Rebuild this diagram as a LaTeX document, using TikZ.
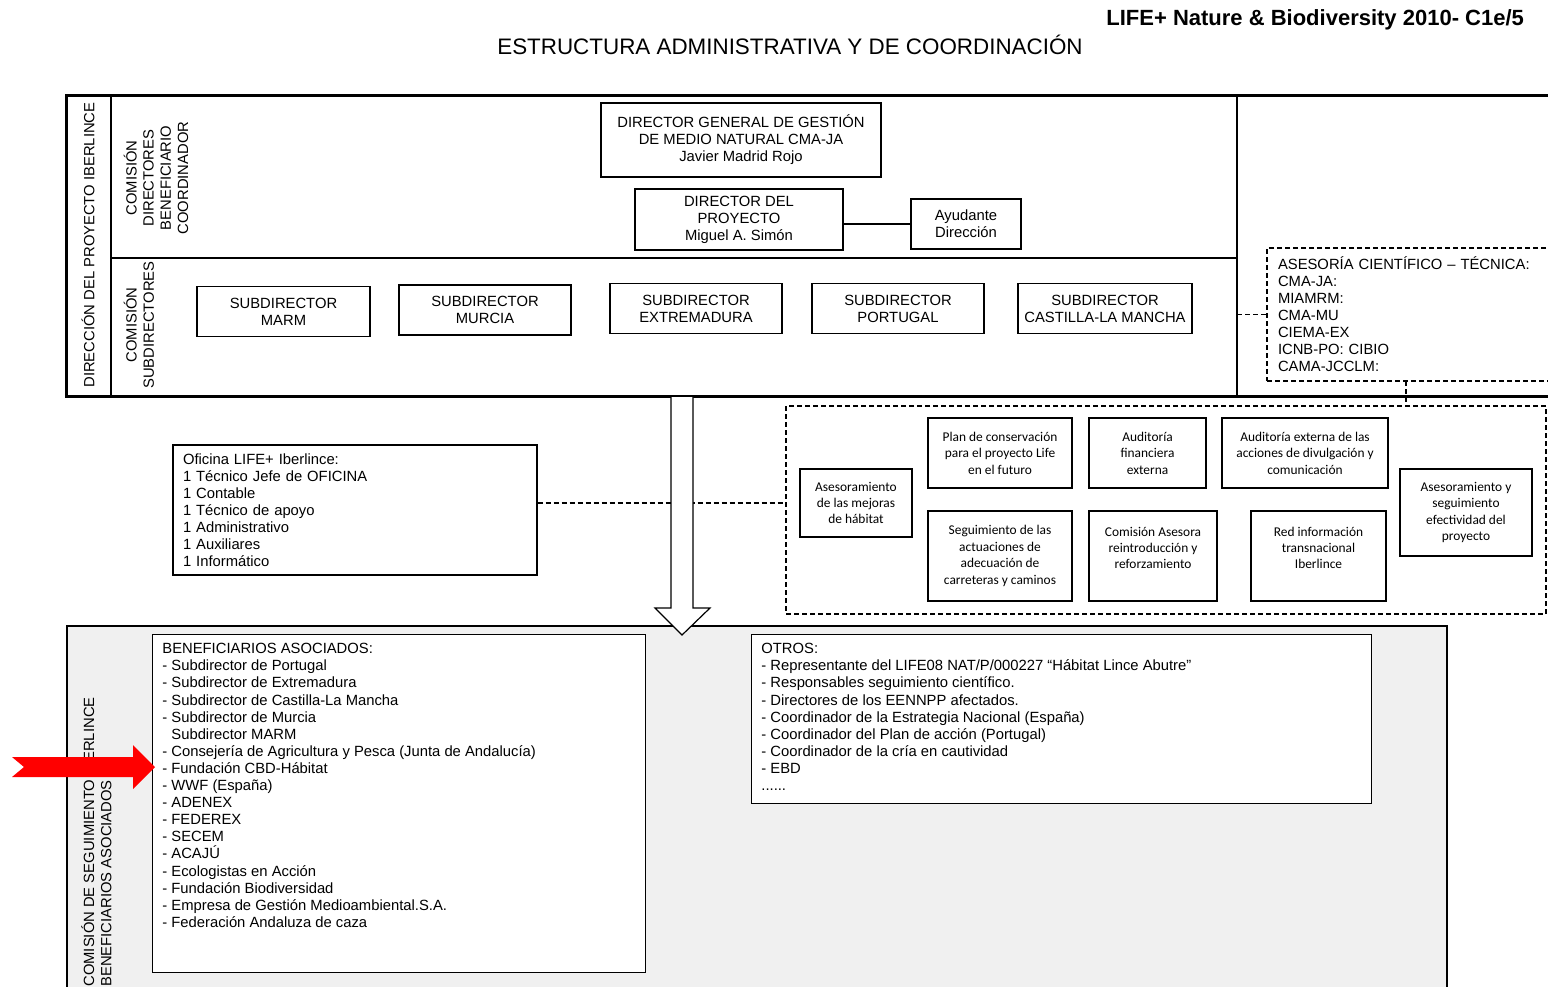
\documentclass[tikz,border=0pt]{standalone}
\usepackage{fontspec}
\setmainfont{Liberation Sans}
\newfontfamily\calibri{Carlito}

\begin{document}
\begin{tikzpicture}[x=0.5pt,y=-0.5pt,
		kasten/.style={draw,line width=0.7pt,align=center,inner sep=0pt,font=\fontsize{7.4}{8.5}\selectfont},
		klein/.style={draw,line width=0.7pt,align=center,inner sep=0pt,font=\calibri\fontsize{6.7}{8.2}\selectfont},
		liste/.style={align=left,inner sep=0pt,anchor=north west,font=\fontsize{7.4}{8.55}\selectfont},
		quer/.style={rotate=90,align=center,inner sep=0pt,font=\fontsize{7.4}{8.6}\selectfont},
		strich/.style={dash pattern=on 2.5pt off 1.5pt,line width=0.6pt},
		rahmen/.style={line width=1.5pt}]
		\useasboundingbox (0,0) rectangle (1548,986);
		
		%Überschrift
		\node[font=\fontsize{11.2}{13}\selectfont] (titel) at (790,45) {ESTRUCTURA ADMINISTRATIVA Y DE COORDINACIÓN};
		\node[font=\bfseries\fontsize{11}{13}\selectfont,anchor=east] (life) at (1531,20) {LIFE+ Nature \& Biodiversity 2010- C1e/5};
		
		%Rahmen oben
		\draw[rahmen] (1548,95) -- (66,95) -- (66,396) -- (1548,396);
		\draw[line width=1pt] (111,95) -- (111,396) (1237,95) -- (1237,396) (111,258) -- (1237,258);
		\node[quer] (direccion) at (88,245) {DIRECCIÓN DEL PROYECTO IBERLINCE};
		\node[quer] (comdir) at (156,178) {COMISIÓN\\DIRECTORES\\BENEFICIARIO\\COORDINADOR};
		\node[quer] (comsub) at (139,325) {COMISIÓN\\SUBDIRECTORES};
		
		\node[kasten,minimum width=140pt,minimum height=37pt] (dg) at (741,140) {DIRECTOR GENERAL DE GESTIÓN\\DE MEDIO NATURAL CMA-JA\\Javier Madrid Rojo};
		\node[kasten,minimum width=104pt,minimum height=30.5pt] (director) at (739,219.5) {DIRECTOR DEL\\PROYECTO\\Miguel A. Simón};
		\node[kasten,minimum width=55pt,minimum height=25pt] (ayudante) at (966,224) {Ayudante\\Dirección};
		\draw[line width=0.7pt] (director.east |- ayudante.west) -- (ayudante.west);
		
		\node[kasten,minimum width=86.5pt,minimum height=25pt] (smarm) at (283.5,311.5) {SUBDIRECTOR\\MARM};
		\node[kasten,minimum width=86pt,minimum height=25pt] (smurcia) at (485,310) {SUBDIRECTOR\\MURCIA};
		\node[kasten,minimum width=86pt,minimum height=25pt] (sextre) at (696,308.5) {SUBDIRECTOR\\EXTREMADURA};
		\node[kasten,minimum width=86pt,minimum height=25pt] (sport) at (898,308.5) {SUBDIRECTOR\\PORTUGAL};
		\node[kasten,minimum width=87pt,minimum height=25pt] (scast) at (1105,308.5) {SUBDIRECTOR\\CASTILLA-LA MANCHA};
		
		%Asesoría rechts
		\node[kasten,strich,align=left,text width=155.5pt,inner xsep=5.5pt,minimum height=66.5pt] (cientifica) at (1433.5,314.5) {ASESORÍA CIENTÍFICO – TÉCNICA:\\CMA-JA:\\MIAMRM:\\CMA-MU\\CIEMA-EX\\ICNB-PO: CIBIO\\CAMA-JCCLM:};
		\coordinate (senkrecht) at (1237,314.5);
		\coordinate (unten) at (1406,381);
		\draw[strich] (senkrecht) -- (cientifica.west);
		
		%Gruppe gestrichelt
		\node[draw,strich,inner sep=0pt,minimum width=380pt,minimum height=104pt] (apoyo) at (1166,510) {};
		\draw[strich] (unten) -- (unten |- apoyo.north);
		\node[klein,minimum width=56pt,minimum height=34pt] (habitat) at (856,503) {Asesoramiento\\de las mejoras\\de hábitat};
		\node[klein,minimum width=72pt,minimum height=35pt] (plan) at (1000,453) {Plan de conservación\\para el proyecto Life\\en el futuro};
		\node[klein,minimum width=58.5pt,minimum height=35pt] (audfin) at (1147.5,453) {Auditoría\\financiera\\externa};
		\node[klein,minimum width=83pt,minimum height=35pt] (audext) at (1305,453) {Auditoría externa de las\\acciones de divulgación y\\comunicación};
		\node[klein,minimum width=66pt,minimum height=43.5pt] (efect) at (1466,512.5) {Asesoramiento y\\seguimiento\\efectividad del\\proyecto};
		\node[klein,minimum width=72pt,minimum height=45pt] (segui) at (1000,556) {Seguimiento de las\\actuaciones de\\adecuación de\\carreteras y caminos};
		\node[klein,minimum width=64pt,minimum height=45pt] (comision) at (1153,556) {Comisión Asesora\\reintroducción y\\reforzamiento\\~};
		\node[klein,minimum width=67.5pt,minimum height=45pt] (red) at (1318.5,556) {Red información\\transnacional\\Iberlince\\~};
		
		%Oficina
		\node[kasten,align=left,text width=172pt,inner xsep=5pt,minimum height=65pt] (oficina) at (355,510) {Oficina LIFE+ Iberlince:\\1 Técnico Jefe de OFICINA\\1 Contable\\1 Técnico de apoyo\\1 Administrativo\\1 Auxiliares\\1 Informático};
		
		%Bereich unten
		\fill[black!6] (67,626) rectangle (1447,1000);
		\draw[line width=0.9pt] (67,1000) -- (67,626) -- (1447,626) -- (1447,1000);
		\node[quer,align=left,anchor=west] (seguimiento) at (96.5,987) {COMISIÓN DE SEGUIMIENTO IBERLINCE\\BENEFICIARIOS ASOCIADOS};
		
		\node[kasten,fill=white,anchor=north west,minimum width=246.5pt,minimum height=169pt] (benef) at (152,634) {};
		\node[liste] (beneflista) at (162,643) {BENEFICIARIOS ASOCIADOS:\\- Subdirector de Portugal\\- Subdirector de Extremadura\\- Subdirector de Castilla-La Mancha\\- Subdirector de Murcia\\\phantom{- }Subdirector MARM\\- Consejería de Agricultura y Pesca (Junta de Andalucía)\\- Fundación CBD-Hábitat\\- WWF (España)\\- ADENEX\\- FEDEREX\\- SECEM\\- ACAJÚ\\- Ecologistas en Acción\\- Fundación Biodiversidad\\- Empresa de Gestión Medioambiental.S.A.\\- Federación Andaluza de caza};
		
		\node[kasten,fill=white,anchor=north west,minimum width=310pt,minimum height=84.5pt] (otros) at (751,634) {};
		\node[liste] (otroslista) at (761,643) {OTROS:\\- Representante del LIFE08 NAT/P/000227 “Hábitat Lince Abutre”\\- Responsables seguimiento científico.\\- Directores de los EENNPP afectados.\\- Coordinador de la Estrategia Nacional (España)\\- Coordinador del Plan de acción (Portugal)\\- Coordinador de la cría en cautividad\\- EBD\\......};
		
		\draw[strich] (oficina.east |- habitat.west) -- (apoyo.west |- habitat.west);
		
		%Pfeile
		\draw[line width=0.6pt,fill=white] (671,397) -- (671,608) -- (655,608) -- (682,635) -- (710,608) -- (693,608) -- (693,397);
		\fill[red] (12,757) -- (133,757) -- (133,745) -- (155,767) -- (133,789) -- (133,777) -- (12,777) -- (24,767) -- cycle;
		
		\end{tikzpicture}
\end{document}
